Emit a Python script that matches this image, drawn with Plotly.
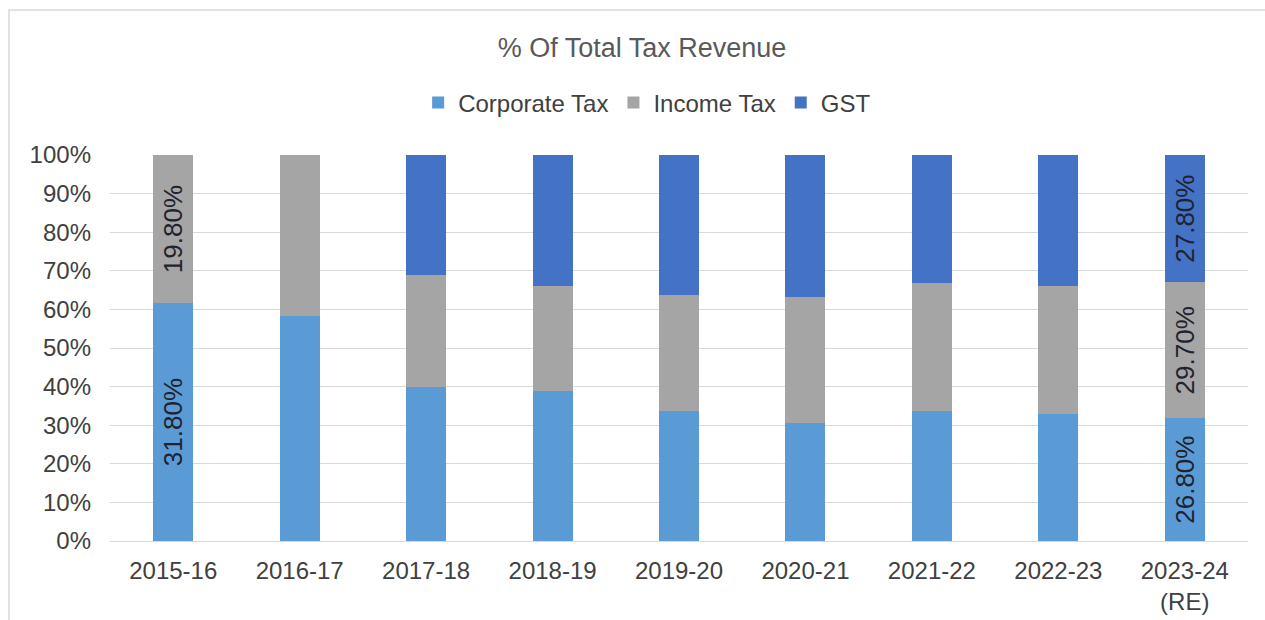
import plotly.graph_objects as go

# Share of total tax revenue (%) by fiscal year
years = ["2015-16", "2016-17", "2017-18", "2018-19", "2019-20",
         "2020-21", "2021-22", "2022-23", "2023-24<br>(RE)"]
corporate_tax = [31.8, 28.9, 29.8, 32.3, 27.7, 22.5, 26.3, 27.1, 26.8]
income_tax = [19.8, 20.6, 21.6, 22.6, 24.5, 24.0, 25.7, 27.3, 29.7]
gst = [0.0, 0.0, 23.1, 28.1, 29.8, 27.0, 25.8, 28.0, 27.8]

# Which bars carry a value label, per series
corporate_labelled = [0, 8]
income_labelled = [0, 8]
gst_labelled = [2, 8]


def labels(values, idx):
    return [f"{v:.2f}%" if i in idx else "" for i, v in enumerate(values)]


FONT = "Liberation Sans, Arial, sans-serif"
series = [
    ("Corporate Tax", corporate_tax, corporate_labelled, "#5B9BD5"),
    ("Income Tax", income_tax, income_labelled, "#A5A5A5"),
    ("GST", gst, gst_labelled, "#4472C4"),
]

fig = go.Figure()
for name, vals, idx, color in series:
    fig.add_trace(go.Bar(
        x=years, y=vals, name=name,
        marker=dict(color=color, line=dict(width=0)),
        text=labels(vals, idx),
        textposition="inside",
        insidetextanchor="middle",
        textangle=-90,
        textfont=dict(family=FONT, size=26, color="#1F2330"),
        cliponaxis=False,
    ))

fig.update_layout(
    barmode="stack",
    barnorm="percent",
    bargap=0.684,
    width=1265, height=620,
    margin=dict(l=110, r=17, t=155, b=79, autoexpand=False),
    paper_bgcolor="white",
    plot_bgcolor="white",
    font=dict(family=FONT, color="#404040"),
    uniformtext=dict(minsize=26, mode="show"),
    title=dict(
        text="% Of Total Tax Revenue",
        x=0.5075, xanchor="center",
        y=0.9226, yanchor="middle",
        font=dict(family=FONT, size=27, color="#595959"),
    ),
    legend=dict(
        orientation="h",
        x=0.472, xanchor="center",
        y=1.1347, yanchor="middle",
        font=dict(family=FONT, size=24, color="#404040"),
        itemwidth=30,
        traceorder="normal",
    ),
    xaxis=dict(
        automargin=False,
        showgrid=False,
        showline=True, linecolor="#D9D9D9", linewidth=1,
        ticks="", tickfont=dict(family=FONT, size=24, color="#404040"),
        ticklabelstandoff=8,
    ),
    yaxis=dict(
        automargin=False,
        range=[0, 100], dtick=10, ticksuffix="%",
        showgrid=True, gridcolor="#D9D9D9", gridwidth=1,
        zeroline=False, showline=False,
        ticks="", tickfont=dict(family=FONT, size=24, color="#404040"),
        ticklabelstandoff=18,
    ),
    shapes=[dict(
        type="rect", xref="paper", yref="paper",
        x0=-0.0888, x1=1.1, y0=-0.35, y1=1.3756,
        line=dict(color="#D9D9D9", width=1.5),
        fillcolor="rgba(0,0,0,0)", layer="below",
    )],
)

fig.write_html("out.html")
